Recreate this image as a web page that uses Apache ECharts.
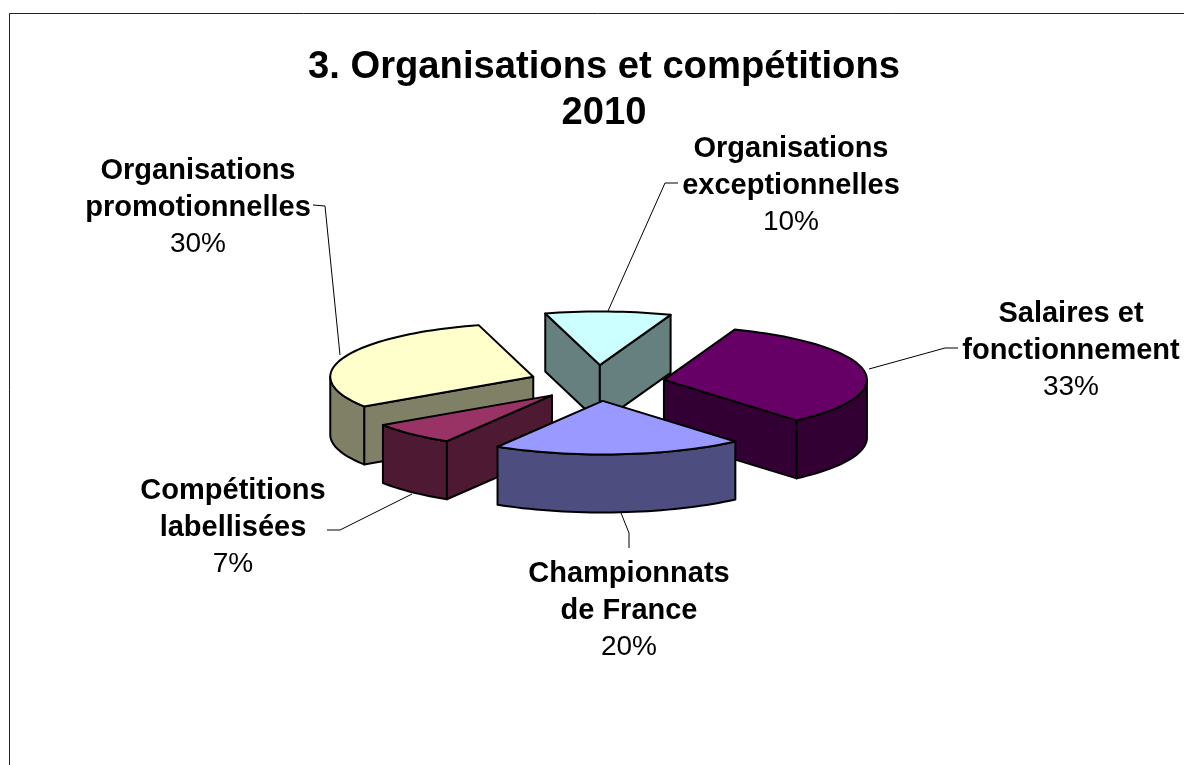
<!DOCTYPE html>
<html><head><meta charset="utf-8">
<style>html,body{margin:0;padding:0;background:#fff}#c{width:1184px;height:765px}</style>
<script src="https://cdn.jsdelivr.net/npm/echarts@6/dist/echarts.min.js"></script>
</head><body><div id="c"></div>
<script>
// Data (clockwise from the first slice)
const names = ['Organisations\nexceptionnelles', 'Salaires et\nfonctionnement', 'Championnats\nde France', 'Compétitions\nlabellisées', 'Organisations\npromotionnelles'];
const values = [10, 33, 20, 7, 30];
const topColors = ['#CCFFFF', '#660066', '#9999FF', '#993366', '#FFFFCC'];
const wallColors = ['#668080', '#330033', '#4D4D80', '#4D1933', '#808066'];

// Layout of the 3D pie projection
const firstAngle = -15.6, R = 203, tilt = 0.264, wall = 58, cx = 597, cy = 383;
const explodes = [68, 68, 68, 65, 68];
const paintRank = [0, 1, 4, 3, 2];
const labelPos = [[791, 131], [1071, 296], [629, 556], [233, 473], [198, 153]];
const leaders = [
  [[678, 183], [665, 183], [608, 311]],
  [[958, 348], [945, 348], [869, 369]],
  [[629, 548], [629, 533], [621, 513]],
  [[327, 530], [340, 530], [412, 494]],
  [[313, 205], [325, 206], [340, 355]]
];

const total = values.reduce((a, b) => a + b, 0);
const D = Math.PI / 180;

function renderSlice(params, api) {
  const i = params.dataIndex;
  const before = values.slice(0, i).reduce((a, b) => a + b, 0);
  const a0 = firstAngle + before / total * 360;
  const a1 = a0 + api.value(0) / total * 360;
  const mid = (a0 + a1) / 2 * D;
  const ox = cx + explodes[i] * Math.sin(mid), oy = cy - tilt * explodes[i] * Math.cos(mid);
  const pt = (deg, r, dz) => [ox + r * Math.sin(deg * D), oy - tilt * r * Math.cos(deg * D) + (dz || 0)];
  const arc = (s, e, dz) => {
    const out = [], n = Math.max(2, Math.ceil(Math.abs(e - s) / 2));
    for (let k = 0; k <= n; k++) out.push(pt(s + (e - s) * k / n, R, dz));
    return out;
  };
  const rank = paintRank[i] * 10 + 10;
  const stroke = { stroke: '#000', lineWidth: 2, lineJoin: 'round' };
  const children = [];
  const wallShape = pts => ({
    type: 'polygon', z2: rank, shape: { points: pts },
    style: Object.assign({ fill: wallColors[i] }, stroke)
  });
  // Radial walls that face the viewer
  if (Math.cos((a0 - 90) * D) < 0) children.push(wallShape([pt(0, 0), pt(a0, R), pt(a0, R, wall), pt(0, 0, wall)]));
  if (Math.cos((a1 + 90) * D) < 0) children.push(wallShape([pt(0, 0), pt(a1, R), pt(a1, R, wall), pt(0, 0, wall)]));
  // Rim wall: the part of the arc at the front (90°..270°)
  const s = Math.max(a0, 90), e = Math.min(a1, 270);
  if (e > s) children.push(wallShape(arc(s, e, 0).concat(arc(s, e, wall).reverse())));
  // Top face
  children.push({
    type: 'polygon', z2: rank + 1, shape: { points: [pt(0, 0)].concat(arc(a0, a1, 0)) },
    style: Object.assign({ fill: topColors[i] }, stroke)
  });
  // Leader line
  children.push({
    type: 'polyline', z2: 5, shape: { points: leaders[i] },
    style: { stroke: '#000', lineWidth: 1, fill: null }
  });
  // Label
  children.push({
    type: 'text', z2: 100,
    style: {
      x: labelPos[i][0], y: labelPos[i][1],
      text: '{b|' + names[i].split('\n').join('}\n{b|') + '}\n{p|' + api.value(0) + '%}',
      align: 'center', fill: '#000',
      rich: {
        b: { font: 'bold 29px "Liberation Sans"', lineHeight: 36.5, align: 'center' },
        p: { font: '28px "Liberation Sans"', lineHeight: 36.5, align: 'center' }
      },
      verticalAlign: 'top'
    }
  });
  return { type: 'group', children };
}

const chart = echarts.init(document.getElementById('c'), null, { renderer: 'canvas' });
chart.setOption({
  animation: false,
  backgroundColor: '#fff',
  title: {
    text: '3. Organisations et compétitions\n2010',
    left: 599, top: 39, textAlign: 'center',
    textStyle: { fontFamily: 'Liberation Sans', fontWeight: 'bold', fontSize: 38.2, lineHeight: 46, color: '#000' }
  },
  graphic: [{
    type: 'rect', z: -1, silent: true,
    shape: { x: 9.5, y: 13.5, width: 1300, height: 900 },
    style: { fill: null, stroke: '#222', lineWidth: 1 }
  }],
  series: [{
    type: 'custom', coordinateSystem: 'none', silent: true,
    data: values.map(v => [v]),
    renderItem: renderSlice
  }]
});
</script></body></html>
